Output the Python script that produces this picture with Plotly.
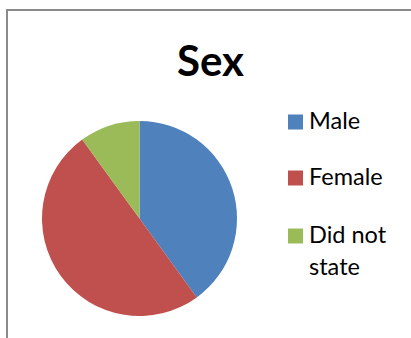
import plotly.graph_objects as go

# Data
labels = ["Male", "Female", "Did not state"]
values = [40, 50, 10]
colors = ["#4F81BD", "#C0504D", "#9BBB59"]
title_text = "Sex"

W, H = 411, 338
FONT = "Lato, 'Open Sans', sans-serif"

def px(x):
    return x / W

def py(y):
    return 1 - y / H

fig = go.Figure()
fig.add_trace(go.Pie(
    labels=labels,
    values=values,
    marker=dict(colors=colors, line=dict(width=0)),
    sort=False,
    direction="clockwise",
    rotation=0,
    textinfo="none",
    hoverinfo="label+value",
    showlegend=False,
    domain=dict(x=[px(42), px(237)], y=[py(316), py(121)]),
))

shapes = [
    # chart area border (extends past the visible area on right/bottom)
    dict(type="rect", xref="paper", yref="paper",
         x0=px(7), x1=px(W + 20), y0=py(H + 20), y1=py(10),
         line=dict(color="#8a8a8a", width=2), fillcolor="rgba(0,0,0,0)", layer="below"),
]
annotations = [
    dict(text="<b>" + title_text + "</b>", x=px(210), y=py(60), xref="paper", yref="paper",
         xanchor="center", yanchor="middle", showarrow=False,
         font=dict(family=FONT, size=42, color="#000000")),
]

# Manual legend (Excel-like, right side)
item_centers = [122, 178, 236]
line_gap = 32
for lab, col, cy in zip(labels, colors, item_centers):
    shapes.append(dict(type="rect", xref="paper", yref="paper",
                       x0=px(288), x1=px(303), y0=py(cy + 7.5), y1=py(cy - 7.5),
                       line=dict(width=0), fillcolor=col))
    words = lab.split(" ")
    lines = [lab] if len(lab) <= 7 else [" ".join(words[:2]), " ".join(words[2:])]
    for i, ln in enumerate(lines):
        annotations.append(dict(text=ln, x=px(307), y=py(cy - 2 + i * line_gap),
                                xref="paper", yref="paper", xanchor="left", yanchor="middle",
                                showarrow=False,
                                font=dict(family=FONT, size=23.5, color="#000000")))

fig.update_layout(
    width=W, height=H,
    margin=dict(l=0, r=0, t=0, b=0),
    paper_bgcolor="white", plot_bgcolor="white",
    shapes=shapes, annotations=annotations,
)

fig.write_html("out.html")
